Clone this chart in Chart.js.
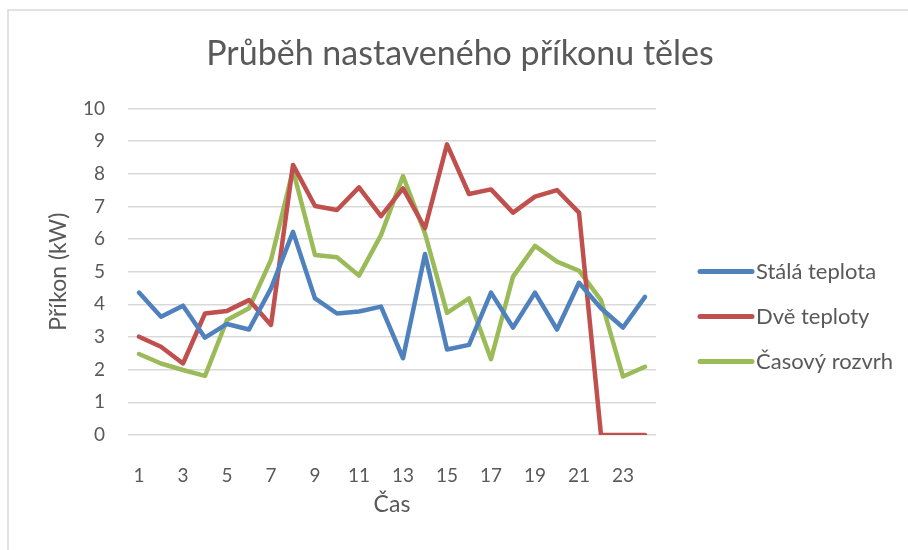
<!DOCTYPE html>
<html>
<head>
<meta charset="utf-8">
<script src="https://cdn.jsdelivr.net/npm/chart.js@4.4.1/dist/chart.umd.min.js"></script>
<style>
  html, body { margin: 0; padding: 0; background: #fff; overflow: hidden; }
  #frame {
    position: absolute; left: 7px; top: 9px; width: 1000px; height: 1000px;
    border-top: 2px solid #e2e2e2; border-left: 2px solid #e2e2e2;
  }
  #wrap { position: absolute; left: 0; top: 0; width: 908px; height: 550px; }
</style>
</head>
<body>
<div id="frame"></div>
<div id="wrap"><canvas id="chart" width="908" height="550"></canvas></div>
<script>
  // ***************************************************
  // Data
  // ***************************************************

  var hours = ['1', '2', '3', '4', '5', '6', '7', '8', '9', '10', '11', '12',
               '13', '14', '15', '16', '17', '18', '19', '20', '21', '22', '23', '24'];

  var stalaTeplota = [4.36, 3.62, 3.96, 2.98, 3.40, 3.23, 4.49, 6.22, 4.18, 3.72, 3.78, 3.93,
                      2.35, 5.54, 2.62, 2.76, 4.36, 3.29, 4.36, 3.23, 4.66, 3.88, 3.29, 4.23];

  var dveTeploty = [3.01, 2.70, 2.19, 3.72, 3.80, 4.13, 3.37, 8.27, 7.01, 6.89, 7.58, 6.70,
                    7.55, 6.33, 8.90, 7.38, 7.52, 6.81, 7.30, 7.50, 6.81, 0, 0, 0];

  var casovyRozvrh = [2.48, 2.19, 1.99, 1.81, 3.52, 3.88, 5.36, 8.11, 5.51, 5.44, 4.88, 6.12,
                      7.93, 6.17, 3.74, 4.18, 2.32, 4.85, 5.79, 5.31, 5.03, 4.13, 1.79, 2.09];

  var yTicks = [0, 1, 2, 3, 4, 5, 6, 7, 8, 9, 10];

  var FONT = 'Lato';
  var TEXT = '#595959';

  /**
   * One line series in the office look
   */
  function series(label, values, color) {
    return {
      label: label,
      data: values,
      borderColor: color,
      backgroundColor: color,
      borderWidth: 4.5,
      borderJoinStyle: 'round',
      borderCapStyle: 'round',
      pointRadius: 0,
      pointHoverRadius: 0,
      tension: 0,
      fill: false
    };
  }

  /**
   * Legend drawn on the right, next to the plot
   */
  var sideLegend = {
    id: 'sideLegend',
    afterDraw: function(chart) {
      var ctx = chart.ctx;
      var area = chart.chartArea;
      var x0 = area.right + 42;
      var y0 = area.top + 163;
      ctx.save();
      ctx.font = '22px ' + FONT;
      ctx.textBaseline = 'middle';
      ctx.textAlign = 'left';
      chart.data.datasets.forEach(function(ds, i) {
        var y = y0 + i * 45;
        ctx.beginPath();
        ctx.lineCap = 'round';
        ctx.lineWidth = 5;
        ctx.strokeStyle = ds.borderColor;
        ctx.moveTo(x0 + 2, y);
        ctx.lineTo(x0 + 54, y);
        ctx.stroke();
        ctx.fillStyle = TEXT;
        ctx.fillText(ds.label, x0 + 58, y + 1);
      });
      ctx.restore();
    }
  };

  new Chart(document.getElementById('chart'), {
    type: 'line',
    data: {
      labels: hours,
      datasets: [
        series('Stálá teplota', stalaTeplota, '#4f81bd'),
        series('Dvě teploty', dveTeploty, '#c0504d'),
        series('Časový rozvrh', casovyRozvrh, '#9bbb59')
      ]
    },
    options: {
      responsive: false,
      animation: false,
      events: [],
      layout: { padding: { top: 10, left: 12, right: 0, bottom: 10 } },
      plugins: {
        legend: { display: false },
        tooltip: { enabled: false },
        title: {
          display: true,
          text: 'Průběh nastaveného příkonu těles',
          color: TEXT,
          font: { family: FONT, size: 34, weight: 'normal' },
          padding: { top: 24, bottom: 33.6 }
        }
      },
      scales: {
        x: {
          offset: true,
          grid: { display: false },
          border: { display: false },
          ticks: {
            autoSkip: false,
            maxRotation: 0,
            padding: 21,
            color: TEXT,
            font: { family: FONT, size: 19 },
            callback: function(val, i) { return i % 2 === 0 ? hours[i] : ''; }
          },
          title: {
            display: true,
            text: 'Čas',
            color: TEXT,
            font: { family: FONT, size: 23 },
            padding: { top: 4, bottom: 22 }
          },
          afterFit: function(scale) { scale.height = 105; }
        },
        y: {
          min: yTicks[0],
          max: yTicks[yTicks.length - 1],
          grid: { color: '#d9d9d9', lineWidth: 1.5, drawTicks: false },
          border: { display: false },
          ticks: {
            stepSize: 1,
            padding: 23,
            color: TEXT,
            font: { family: FONT, size: 19 }
          },
          afterBuildTicks: function(scale) {
            scale.ticks = yTicks.map(function(v) { return { value: v }; });
          },
          title: {
            display: true,
            text: 'Příkon (kW)',
            color: TEXT,
            font: { family: FONT, size: 23 },
            padding: { top: 33, bottom: 4 }
          },
          afterFit: function(scale) { scale.width = 116; }
        },
        spacer: {
          type: 'linear',
          position: 'right',
          grid: { display: false },
          border: { display: false },
          ticks: { display: false },
          afterFit: function(scale) { scale.width = 252; }
        }
      }
    },
    plugins: [sideLegend]
  });
</script>
</body>
</html>
